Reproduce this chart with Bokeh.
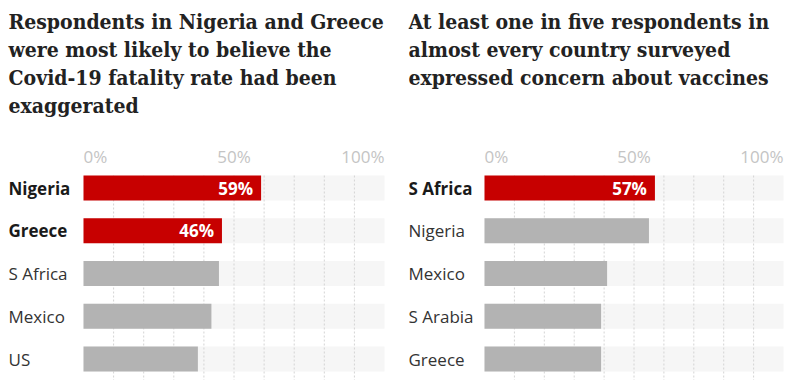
from bokeh.plotting import figure
from bokeh.models import Range1d, ColumnDataSource
from bokeh.layouts import row
from bokeh.embed import file_html
from bokeh.resources import INLINE
from bokeh.core.properties import value

# ---- data ----
title_left = ["Respondents in Nigeria and Greece",
              "were most likely to believe the",
              "Covid-19 fatality rate had been",
              "exaggerated"]
countries_left = ["Nigeria", "Greece", "S Africa", "Mexico", "US"]
values_left = [59, 46, 45, 42.5, 38]
highlight_left = [True, True, False, False, False]

title_right = ["At least one in five respondents in",
               "almost every country surveyed",
               "expressed concern about vaccines"]
countries_right = ["S Africa", "Nigeria", "Mexico", "S Arabia", "Greece"]
values_right = [57, 55, 41, 39, 39]
highlight_right = [True, False, False, False, False]

tick_values = [0, 50, 100]
tick_labels = ["0%", "50%", "100%"]
grid_values = [10, 20, 30, 40, 50, 60, 70, 80, 90]

# ---- style ----
RED = "#c70000"
GREY = "#b3b3b3"
TRACK = "#f6f6f6"
FIG_H = 380
ROW0 = 187.5      # px from top of figure to center of first row
PITCH = 42.75
BAR_PX = 25
SANS = "Open Sans"
SERIF = "DejaVu Serif Condensed"


def make_panel(title_lines, countries, values, highlight, width, left_px, right_px, text_px):
    def py(p):
        return (p - ROW0) / PITCH

    plot_w = width - left_px - right_px
    x0 = -left_px / plot_w * 100
    x1 = 100 + right_px / plot_w * 100
    p = figure(width=width, height=FIG_H, output_backend="svg", toolbar_location=None,
               x_range=Range1d(x0, x1), y_range=Range1d(py(FIG_H), py(0)),
               min_border=0, outline_line_color=None)
    p.axis.visible = False
    p.grid.visible = False
    p.background_fill_color = "white"
    p.border_fill_color = "white"

    n = len(countries)
    idx = list(range(n))
    h = BAR_PX / PITCH

    # tracks
    p.hbar(y=idx, left=0, right=100, height=h, fill_color=TRACK, line_color=None)
    # dashed gridlines
    p.segment(x0=grid_values, x1=grid_values,
              y0=[py(ROW0 - BAR_PX / 2)] * len(grid_values),
              y1=[py(FIG_H)] * len(grid_values),
              line_color="#d4d4d4", line_width=1, line_dash="2 2")
    # value bars
    colors = [RED if hl else GREY for hl in highlight]
    p.hbar(y=idx, left=0, right=values, height=h, fill_color=colors, line_color=None)

    # value labels on highlighted bars
    hl_idx = [i for i in idx if highlight[i]]
    p.text(x=[values[i] for i in hl_idx], y=hl_idx,
           text=["%d%%" % round(values[i]) for i in hl_idx],
           text_align="right", text_baseline="middle", x_offset=-8, y_offset=0,
           text_font=value(SANS), text_font_style="bold", text_font_size="17px",
           text_color="white")

    # country labels
    src = ColumnDataSource(dict(
        x=[x0] * n, y=idx, t=countries,
        style=["bold" if hl else "normal" for hl in highlight],
        col=["#1a1a1a" if hl else "#333333" for hl in highlight]))
    p.text(x="x", y="y", text="t", source=src, text_align="left", text_baseline="middle",
           text_font=value(SANS), text_font_size="17px", text_font_style="style",
           text_color="col", x_offset=text_px, y_offset=0)

    # tick labels
    p.text(x=tick_values, y=[py(156)] * len(tick_values), text=tick_labels,
           text_align=["left", "center", "right"], text_baseline="middle",
           text_font=value(SANS), text_font_size="17px", text_color="#c4c4c4")

    # title
    p.text(x=[x0] * len(title_lines), y=[py(21 + 28 * k) for k in range(len(title_lines))],
           text=title_lines, text_align="left", text_baseline="alphabetic",
           text_font=value(SERIF), text_font_style="bold", text_font_size="21px",
           text_color="#222222", x_offset=text_px)
    return p


left = make_panel(title_left, countries_left, values_left, highlight_left, 408, 83, 24, 8)
right = make_panel(title_right, countries_right, values_right, highlight_right, 377, 76, 2, 0)
layout = row(left, right)

open("out.html", "w").write(file_html(layout, INLINE))
